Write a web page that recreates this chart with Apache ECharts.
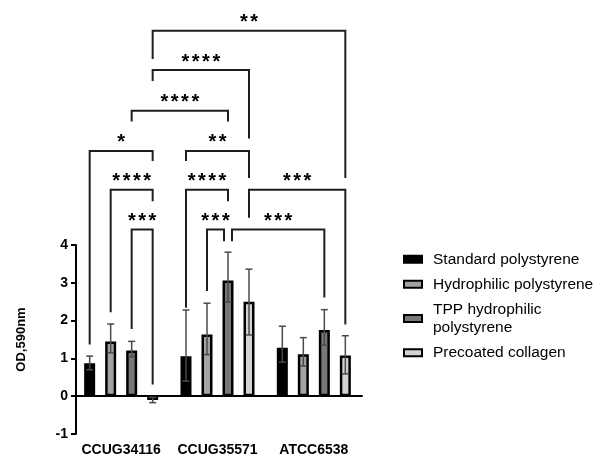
<!DOCTYPE html>
<html>
<head>
<meta charset="utf-8">
<script src="https://cdn.jsdelivr.net/npm/echarts@6/dist/echarts.min.js"></script>
<style>
  html, body { margin: 0; padding: 0; background: #fff; }
  #chart { width: 594px; height: 458px; }
</style>
</head>
<body>
<div id="chart"></div>
<script>
var strains = ['CCUG34116', 'CCUG35571', 'ATCC6538'];
var surfaces = ['Standard polystyrene', 'Hydrophilic polystyrene', 'TPP hydrophilic\npolystyrene', 'Precoated collagen'];
var yTicks = [-1, 0, 1, 2, 3, 4];

// mean OD per surface, one value per strain
var standardOD = [0.87, 1.06, 1.28];
var hydrophilicOD = [1.45, 1.63, 1.11];
var tppOD = [1.21, 3.06, 1.75];
var collagenOD = [-0.10, 2.50, 1.08];

// error bar ends (low / high)
var standardLo = [0.70, 0.40, 0.90];
var standardHi = [1.06, 2.28, 1.85];
var hydrophilicLo = [1.15, 1.10, 0.80];
var hydrophilicHi = [1.91, 2.46, 1.55];
var tppLo = [1.04, 2.49, 1.35];
var tppHi = [1.45, 3.81, 2.29];
var collagenLo = [-0.17, 1.62, 0.59];
var collagenHi = [-0.03, 3.36, 1.60];

// significance: [strainA, surfaceA, strainB, surfaceB, level, endA, endB, stars, nudgeA, nudgeB]
var brackets = [
  [0, 3, 2, 3, 9.67, 8.92, 5.77, '**', 0, 0],
  [0, 3, 1, 3, 8.63, 8.34, 6.82, '****', 0, 0],
  [0, 2, 1, 2, 7.55, 7.27, 7.27, '****', 0, 0],
  [0, 0, 0, 3, 6.49, 1.37, 6.22, '*', 0, 0],
  [0, 1, 0, 3, 5.46, 2.22, 5.16, '****', 0, 0],
  [0, 2, 0, 3, 4.41, 1.78, 0.31, '***', 0, 0],
  [1, 0, 1, 3, 6.49, 6.22, 5.77, '**', 0, 0],
  [1, 0, 1, 2, 5.46, 2.34, 5.16, '****', 0, 0],
  [1, 1, 1, 2, 4.41, 2.78, 4.10, '***', 0, -4],
  [1, 2, 2, 2, 4.41, 4.10, 2.61, '***', 4, 0],
  [1, 3, 2, 3, 5.46, 4.72, 1.90, '***', 0, 0]
];

var values = [standardOD, hydrophilicOD, tppOD, collagenOD];
var lows = [standardLo, hydrophilicLo, tppLo, collagenLo];
var highs = [standardHi, hydrophilicHi, tppHi, collagenHi];
var fills = ['#000000', '#a3a3a3', '#787878', '#d3d3d3'];

var font = 'Liberation Sans, Arial, Helvetica, sans-serif';
var barW = 11;
var step = 21;

function barX(api, g, k) {
  return api.coord([g, 0])[0] + (k - 1.5) * step;
}

function errRender(k) {
  return function (params, api) {
    var g = api.value(0);
    var x = barX(api, g, k);
    var lo = api.coord([g, api.value(1)])[1];
    var hi = api.coord([g, api.value(2)])[1];
    var st = { stroke: '#4a4a4a', lineWidth: 1.5 };
    return {
      type: 'group',
      children: [
        { type: 'line', shape: { x1: x, y1: lo, x2: x, y2: hi }, style: st },
        { type: 'line', shape: { x1: x - 3.5, y1: lo, x2: x + 3.5, y2: lo }, style: st },
        { type: 'line', shape: { x1: x - 3.5, y1: hi, x2: x + 3.5, y2: hi }, style: st }
      ]
    };
  };
}

function bracketRender(params, api) {
  var b = brackets[api.value(2)];
  var xa = barX(api, b[0], b[1]) + b[8];
  var xb = barX(api, b[2], b[3]) + b[9];
  var y = api.coord([0, b[4]])[1];
  var ya = api.coord([0, b[5]])[1];
  var yb = api.coord([0, b[6]])[1];
  var children = [{
    type: 'polyline',
    shape: { points: [[xa, ya], [xa, y], [xb, y], [xb, yb]] },
    style: { stroke: '#1e1e1e', lineWidth: 2, fill: null }
  }];
  var n = b[7].length;
  var cx = (xa + xb) / 2;
  for (var i = 0; i < n; i++) {
    children.push({
      type: 'text',
      style: {
        text: '*', x: cx + (i - (n - 1) / 2) * 10.3, y: y - 8,
        font: 'bold 20px ' + font, fill: '#000',
        align: 'center', verticalAlign: 'middle'
      }
    });
  }
  return { type: 'group', children: children };
}

var series = [];
for (var k = 0; k < 4; k++) {
  series.push({
    name: surfaces[k],
    type: 'bar',
    barWidth: barW,
    barGap: '91%',
    data: values[k],
    itemStyle: { color: fills[k], borderColor: '#000', borderWidth: 2.5 }
  });
}
for (var k2 = 0; k2 < 4; k2++) {
  series.push({
    type: 'custom',
    renderItem: errRender(k2),
    clip: false,
    z: 5,
    encode: { x: 0, y: [1, 2] },
    data: lows[k2].map(function (lo, i) { return [i, lo, highs[k2][i]]; }),
    silent: true
  });
}
series.push({
  type: 'custom',
  renderItem: bracketRender,
  clip: false,
  z: 6,
  encode: { x: 0, y: 1 },
  data: brackets.map(function (b, i) { return [0, 0, i]; }),
  silent: true
});

var chart = echarts.init(document.getElementById('chart'));
chart.setOption({
  animation: false,
  textStyle: { fontFamily: font },
  grid: { left: 73, right: 232, top: 245, bottom: 24, containLabel: false },
  legend: {
    data: surfaces,
    orient: 'vertical',
    left: 403,
    top: 250,
    padding: 0,
    icon: 'rect',
    itemWidth: 18,
    itemHeight: 7,
    itemGap: 6.5,
    textStyle: { fontSize: 15.5, color: '#000', lineHeight: 18.5, padding: [0, 0, 0, 6] }
  },
  xAxis: {
    type: 'category',
    data: strains,
    axisLine: { lineStyle: { color: '#000', width: 2 } },
    axisTick: { alignWithLabel: true, length: 5, lineStyle: { color: '#000', width: 2 } },
    axisLabel: { interval: 0, fontSize: 14, fontWeight: 'bold', color: '#000', margin: 9 }
  },
  yAxis: {
    type: 'value',
    min: yTicks[0],
    max: yTicks[yTicks.length - 1],
    interval: 1,
    offset: -3,
    name: 'OD,590nm',
    nameLocation: 'middle',
    nameGap: 48,
    nameTextStyle: { fontSize: 13, fontWeight: 'bold', color: '#000' },
    splitLine: { show: false },
    axisLine: { show: true, lineStyle: { color: '#000', width: 2 } },
    axisTick: { show: true, length: 5, lineStyle: { color: '#000', width: 2 } },
    axisLabel: { fontSize: 14, fontWeight: 'bold', color: '#000', margin: 8 }
  },
  series: series
});
</script>
</body>
</html>
